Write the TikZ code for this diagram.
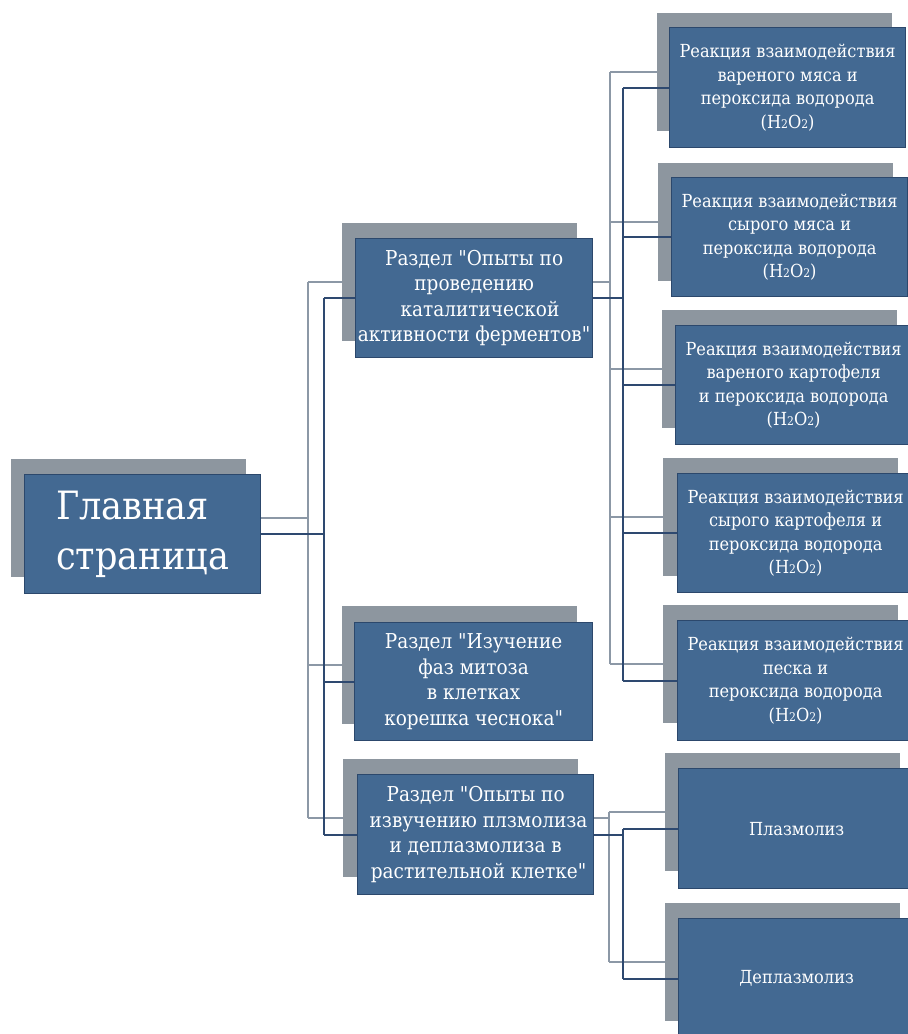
\documentclass[tikz,border=0pt]{standalone}
\usepackage{fontspec}
\IfFontExistsTF{DejaVu Serif Condensed}{\setmainfont{DejaVu Serif Condensed}[Ligatures=TeXOff]\def\secsz{20.5}\def\rsz{18}\def\msz{39}}{\setmainfont{DejaVu Serif}[Ligatures=TeXOff]\def\secsz{18.5}\def\rsz{16.5}\def\msz{35}}
\definecolor{boxblue}{RGB}{67,105,146}
\definecolor{boxedge}{RGB}{44,72,108}
\definecolor{shadowgray}{RGB}{141,150,159}
\definecolor{lightline}{RGB}{140,152,166}
\definecolor{darkline}{RGB}{46,73,112}
\newcommand\hhoo{(H{\fontsize{12}{12}\selectfont 2}O{\fontsize{12}{12}\selectfont 2})}
\pgfdeclarelayer{shadowlayer}
\pgfdeclarelayer{linelayer}
\pgfsetlayers{shadowlayer,linelayer,main}
\begin{document}
\begin{tikzpicture}[x=1pt,y=-1pt,
  shadowbox/.style={fill=shadowgray, draw=none, anchor=north west, minimum width=235pt, minimum height=118pt, inner sep=0pt},
  frontbox/.style={fill=boxblue, draw=boxedge, line width=1.2pt, anchor=north west, minimum width=236pt, minimum height=119pt, inner sep=0pt, text=white, align=center},
  secfont/.style={font=\fontsize{\secsz}{25.5}\selectfont},
  rfont/.style={font=\fontsize{\rsz}{23.5}\selectfont},
  mainfont/.style={font=\fontsize{\msz}{50}\selectfont},
  lightconn/.style={draw=lightline, line width=2pt},
  darkconn/.style={draw=darkline, line width=2pt}]
\useasboundingbox (0,0) rectangle (908,1034);

% shadows
\begin{pgfonlayer}{shadowlayer}
\node[shadowbox] (ms) at (11,459) {};
\node[shadowbox] (s1s) at (342,223) {};
\node[shadowbox] (s2s) at (342,606) {};
\node[shadowbox] (s3s) at (343,759) {};
\node[shadowbox] (r1s) at (657,13) {};
\node[shadowbox] (r2s) at (658,163) {};
\node[shadowbox] (r3s) at (662,310) {};
\node[shadowbox] (r4s) at (663,458) {};
\node[shadowbox] (r5s) at (663,605) {};
\node[shadowbox] (p1s) at (665,753) {};
\node[shadowbox] (p2s) at (665,903) {};
\end{pgfonlayer}

% front boxes
\node[frontbox, align=left, mainfont] (m) at (24,474) {Главная\\страница};
\node[frontbox, secfont, minimum width=237pt] (s1) at (355,238) {Раздел "Опыты по\\проведению\\ \ \ каталитической\\активности ферментов"};
\node[frontbox, secfont, minimum width=238pt, minimum height=118pt] (s2) at (354,622) {Раздел "Изучение\\фаз митоза\\в клетках\\корешка чеснока"};
\node[frontbox, secfont, minimum height=120pt] (s3) at (357,774) {Раздел "Опыты по\\ \ извучению плзмолиза\\и деплазмолиза в\\ \ растительной клетке"};
\node[frontbox, rfont, minimum height=120pt] (r1) at (669,27) {Реакция взаимодействия\\вареного мяса и\\пероксида водорода\\\hhoo};
\node[frontbox, rfont] (r2) at (671,177) {Реакция взаимодействия\\сырого мяса и\\пероксида водорода\\\hhoo};
\node[frontbox, rfont] (r3) at (675,325) {Реакция взаимодействия\\вареного картофеля\\и пероксида водорода\\\hhoo};
\node[frontbox, rfont] (r4) at (677,473) {Реакция взаимодействия\\сырого картофеля и\\пероксида водорода\\\hhoo};
\node[frontbox, rfont, minimum height=120pt] (r5) at (677,620) {Реакция взаимодействия\\песка и\\пероксида водорода\\\hhoo};
\node[frontbox, rfont, minimum height=120pt] (p1) at (678,768) {Плазмолиз};
\node[frontbox, rfont, minimum height=120pt] (p2) at (678,918) {Деплазмолиз};

% trunk positions
\coordinate (tl1) at (308,0);
\coordinate (td1) at (324,0);
\coordinate (tl2) at (610,0);
\coordinate (td2) at (623,0);
\coordinate (tl3) at (609,0);
\coordinate (td3) at (623,0);

\begin{pgfonlayer}{linelayer}
% main -> sections
\draw[lightconn] (ms.east) -- (ms.east -| tl1);
\draw[lightconn] (s1s.west -| tl1) -- (s3s.west -| tl1);
\foreach \n in {s1s,s2s,s3s} \draw[lightconn] (\n.west -| tl1) -- (\n.west);
\draw[darkconn] (m.east) -- (m.east -| td1);
\draw[darkconn] (s1.west -| td1) -- (s3.west -| td1);
\foreach \n in {s1,s2,s3} \draw[darkconn] (\n.west -| td1) -- (\n.west);
% section 1 -> reactions
\draw[lightconn] (s1s.east) -- (s1s.east -| tl2);
\draw[lightconn] (r1s.west -| tl2) -- (r5s.west -| tl2);
\foreach \n in {r1s,r2s,r3s,r4s,r5s} \draw[lightconn] (\n.west -| tl2) -- (\n.west);
\draw[darkconn] (s1.east) -- (s1.east -| td2);
\draw[darkconn] (r1.west -| td2) -- (r5.west -| td2);
\foreach \n in {r1,r2,r3,r4,r5} \draw[darkconn] (\n.west -| td2) -- (\n.west);
% section 3 -> plasmolysis
\draw[lightconn] (s3s.east) -- (s3s.east -| tl3);
\draw[lightconn] (p1s.west -| tl3) -- (p2s.west -| tl3);
\foreach \n in {p1s,p2s} \draw[lightconn] (\n.west -| tl3) -- (\n.west);
\draw[darkconn] (s3.east) -- (s3.east -| td3);
\draw[darkconn] (p1.west -| td3) -- (p2.west -| td3);
\foreach \n in {p1,p2} \draw[darkconn] (\n.west -| td3) -- (\n.west);
\end{pgfonlayer}
\end{tikzpicture}
\end{document}
